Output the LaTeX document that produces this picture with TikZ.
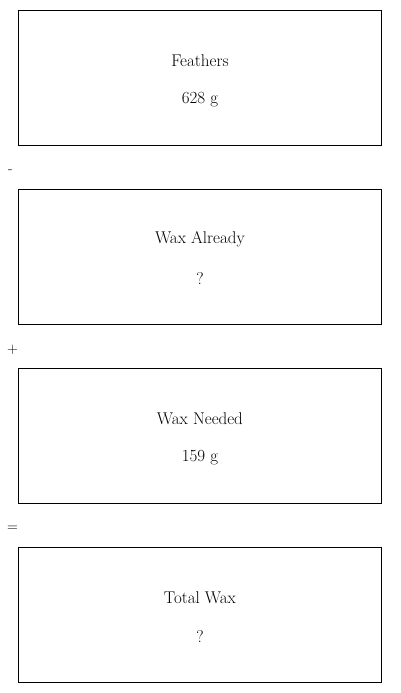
\documentclass[tikz,border=0pt]{standalone}
\begin{document}
\begin{tikzpicture}[x=1pt,y=-1pt,
  boxst/.style={draw,line width=0.9pt,minimum width=363pt,minimum height=135pt,anchor=north west,inner sep=0pt},
  txt/.style={font=\fontsize{17}{20}\selectfont,inner sep=0pt},
  opst/.style={font=\fontsize{15}{17}\selectfont,inner sep=0pt}]
\useasboundingbox (0,0) rectangle (400,693);
\node[boxst] (b1) at (18,10) {};
\node[boxst] (b2) at (18,189) {};
\node[boxst] (b3) at (18,368) {};
\node[boxst] (b4) at (18,547) {};
\node[txt] (t1) at ([yshift=17.5pt]b1.center) {Feathers};
\node[txt] (v1) at ([yshift=-21.5pt]b1.center) {628 g};
\node[txt] (t2) at ([yshift=17.5pt]b2.center) {Wax Already};
\node[txt] (v2) at ([yshift=-21.5pt]b2.center) {?};
\node[txt] (t3) at ([yshift=17.5pt]b3.center) {Wax Needed};
\node[txt] (v3) at ([yshift=-21.5pt]b3.center) {159 g};
\node[txt] (t4) at ([yshift=17.5pt]b4.center) {Total Wax};
\node[txt] (v4) at ([yshift=-21.5pt]b4.center) {?};
\node[opst] (o1) at (10.5,172) {-};
\node[opst] (o2) at (12.5,350) {+};
\node[opst] (o3) at (12.5,529) {=};
\end{tikzpicture}
\end{document}
